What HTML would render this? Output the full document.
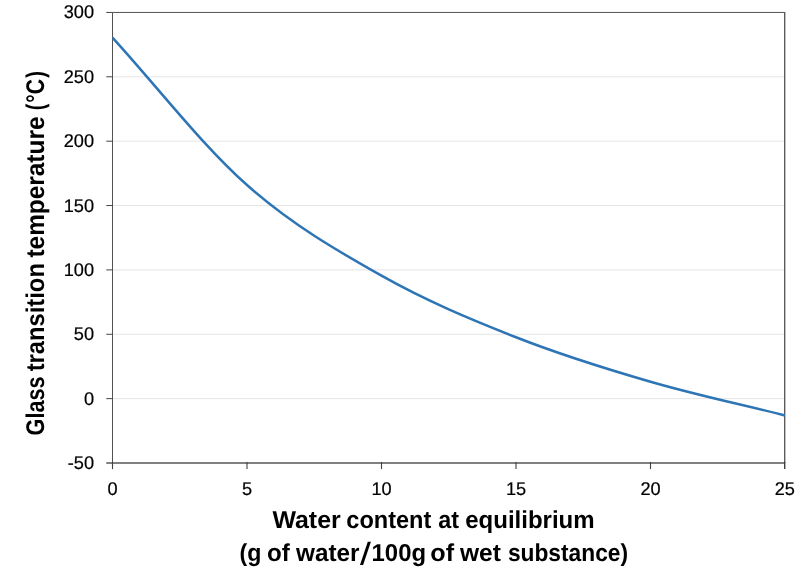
<!DOCTYPE html>
<html><head><meta charset="utf-8"><title>Glass transition temperature vs water content</title>
<style>
html,body{margin:0;padding:0;background:#fff;}
body{width:800px;height:577px;overflow:hidden;font-family:"Liberation Sans",sans-serif;}
svg{display:block;will-change:transform;}
text{text-rendering:geometricPrecision;}
.tk{font-family:"Liberation Sans",sans-serif;font-size:18.35px;fill:#000;stroke:#000;stroke-width:0.2px;}
.ti{font-family:"Liberation Sans",sans-serif;font-size:23.6px;font-weight:bold;fill:#000;}
</style></head>
<body>
<svg width="800" height="577" viewBox="0 0 800 577">
<rect x="0" y="0" width="800" height="577" fill="#ffffff"/>
<defs><clipPath id="plotclip"><rect x="112.2" y="12.45" width="673.1" height="450.55"/></clipPath></defs>
<g id="grid">
<line x1="112.5" y1="76.81" x2="784.7" y2="76.81" stroke="#e5e5e5" stroke-width="1"/>
<line x1="112.5" y1="141.18" x2="784.7" y2="141.18" stroke="#e5e5e5" stroke-width="1"/>
<line x1="112.5" y1="205.54" x2="784.7" y2="205.54" stroke="#e5e5e5" stroke-width="1"/>
<line x1="112.5" y1="269.91" x2="784.7" y2="269.91" stroke="#e5e5e5" stroke-width="1"/>
<line x1="112.5" y1="334.27" x2="784.7" y2="334.27" stroke="#e5e5e5" stroke-width="1"/>
<line x1="112.5" y1="398.64" x2="784.7" y2="398.64" stroke="#e5e5e5" stroke-width="1"/>
</g>
<g id="frame">
<line x1="112.5" y1="12.45" x2="784.7" y2="12.45" stroke="#525252" stroke-width="1"/>
<line x1="784.7" y1="11.95" x2="784.7" y2="463.0" stroke="#525252" stroke-width="1.3"/>
<line x1="112.5" y1="12.45" x2="112.5" y2="463.0" stroke="#525252" stroke-width="1"/>
<line x1="106.3" y1="463.0" x2="784.7" y2="463.0" stroke="#808080" stroke-width="2"/>
<line x1="106.3" y1="12.45" x2="112.5" y2="12.45" stroke="#454545" stroke-width="1"/>
<line x1="106.3" y1="76.81" x2="112.5" y2="76.81" stroke="#454545" stroke-width="1"/>
<line x1="106.3" y1="141.18" x2="112.5" y2="141.18" stroke="#454545" stroke-width="1"/>
<line x1="106.3" y1="205.54" x2="112.5" y2="205.54" stroke="#454545" stroke-width="1"/>
<line x1="106.3" y1="269.91" x2="112.5" y2="269.91" stroke="#454545" stroke-width="1"/>
<line x1="106.3" y1="334.27" x2="112.5" y2="334.27" stroke="#454545" stroke-width="1"/>
<line x1="106.3" y1="398.64" x2="112.5" y2="398.64" stroke="#454545" stroke-width="1"/>
<line x1="112.50" y1="462.0" x2="112.50" y2="469.1" stroke="#404040" stroke-width="1.1"/>
<line x1="247.00" y1="462.0" x2="247.00" y2="469.1" stroke="#404040" stroke-width="1.1"/>
<line x1="381.50" y1="462.0" x2="381.50" y2="469.1" stroke="#404040" stroke-width="1.1"/>
<line x1="516.00" y1="462.0" x2="516.00" y2="469.1" stroke="#404040" stroke-width="1.1"/>
<line x1="650.50" y1="462.0" x2="650.50" y2="469.1" stroke="#404040" stroke-width="1.1"/>
<line x1="784.70" y1="462.0" x2="784.70" y2="469.1" stroke="#404040" stroke-width="1.4"/>
</g>
<path d="M112.50,37.62 C157.33,86.76 202.17,145.38 247.00,185.06 C291.83,224.74 336.67,250.35 381.50,275.71 C426.33,301.08 471.17,319.58 516.00,337.25 C560.83,354.92 605.67,368.72 650.50,381.75 C695.33,394.78 740.17,404.20 785.00,415.43" clip-path="url(#plotclip)" fill="none" stroke="#2e75b6" stroke-width="2.5" stroke-linejoin="round" stroke-linecap="butt"/>
<g id="labels">
<text transform="translate(94.0,18.45) scale(0.99,1)" text-anchor="end" class="tk">300</text>
<text transform="translate(94.0,82.81) scale(0.99,1)" text-anchor="end" class="tk">250</text>
<text transform="translate(94.0,147.18) scale(0.99,1)" text-anchor="end" class="tk">200</text>
<text transform="translate(94.0,211.54) scale(0.99,1)" text-anchor="end" class="tk">150</text>
<text transform="translate(94.0,275.91) scale(0.99,1)" text-anchor="end" class="tk">100</text>
<text transform="translate(94.0,340.27) scale(0.99,1)" text-anchor="end" class="tk">50</text>
<text transform="translate(94.0,404.64) scale(0.99,1)" text-anchor="end" class="tk">0</text>
<text transform="translate(94.0,469.00) scale(0.99,1)" text-anchor="end" class="tk">-50</text>
<text transform="translate(112.60,495.3) scale(0.99,1)" text-anchor="middle" class="tk">0</text>
<text transform="translate(247.10,495.3) scale(0.99,1)" text-anchor="middle" class="tk">5</text>
<text transform="translate(381.60,495.3) scale(0.99,1)" text-anchor="middle" class="tk">10</text>
<text transform="translate(516.10,495.3) scale(0.99,1)" text-anchor="middle" class="tk">15</text>
<text transform="translate(650.60,495.3) scale(0.99,1)" text-anchor="middle" class="tk">20</text>
<text transform="translate(784.85,495.3) scale(0.99,1)" text-anchor="middle" class="tk">25</text>
</g>
<text transform="translate(272.40,528.2) scale(1.0563,1.035)" class="ti">Water</text>
<text transform="translate(346.33,528.2) scale(0.9976,1.035)" class="ti">content</text>
<text transform="translate(438.16,528.2) scale(0.9900,1.035)" class="ti">at</text>
<text transform="translate(465.21,528.2) scale(1.0178,1.035)" class="ti">equilibrium</text>
<text transform="translate(239.50,561.1) scale(0.9821,1.035)" class="ti">(g</text>
<text transform="translate(267.01,561.1) scale(1.0222,1.035)" class="ti">of</text>
<text transform="translate(296.00,561.1) scale(1.0302,1.035)" class="ti">water</text>
<polygon points="360,565.06 363.1,565.06 370.9,541.75 367.8,541.75" fill="#000"/>
<text transform="translate(371.58,561.1) scale(1.0128,1.035)" class="ti">100g</text>
<text transform="translate(430.32,561.1) scale(1.0643,1.035)" class="ti">of</text>
<text transform="translate(460.00,561.1) scale(1.0410,1.035)" class="ti">wet</text>
<text transform="translate(507.91,561.1) scale(0.9645,1.035)" class="ti">substance)</text>
<text transform="translate(43.6,435.42) rotate(-90) scale(0.9157,1.085)" class="ti">Glass</text>
<text transform="translate(43.6,371.35) rotate(-90) scale(1.0071,1.085)" class="ti">transition</text>
<text transform="translate(43.6,257.56) rotate(-90) scale(1.0342,1.085)" class="ti">temperature</text>
<text transform="translate(43.6,110.34) rotate(-90) scale(0.8377,1.085)" class="ti">(</text>
<text transform="translate(43.6,102.69) rotate(-90) scale(0.8929,1.085)" class="ti">&deg;C</text>
<text transform="translate(43.6,77.76) rotate(-90) scale(0.8692,1.085)" class="ti">)</text>
</svg>
</body></html>
